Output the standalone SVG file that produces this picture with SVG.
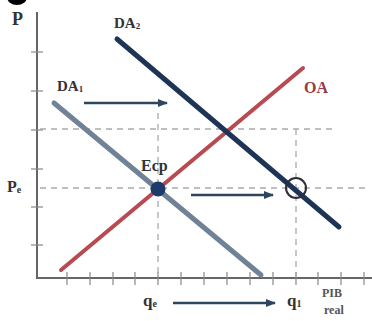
<svg xmlns="http://www.w3.org/2000/svg" width="372" height="321" viewBox="0 0 372 321">
<defs>
<style>
.axis{stroke:#666;stroke-width:2;fill:none}
.tick{stroke:#888;stroke-width:1.2}
.dash{stroke:#aaa;stroke-width:1.3;stroke-dasharray:6 5;fill:none}
.lbl{font-family:"Liberation Serif",serif;font-weight:bold;fill:#333}
.arr{stroke:#2e4560;stroke-width:2.5;fill:none}
</style>
<marker id="ah" viewBox="0 0 10 10" refX="9" refY="5" markerWidth="4" markerHeight="4" orient="auto" markerUnits="strokeWidth">
<path d="M0,1 L10,5 L0,9 Z" fill="#2e4560"/>
</marker>
</defs>
<rect width="372" height="321" fill="#fff"/>
<ellipse cx="17" cy="-3" rx="10" ry="8" fill="#000"/>
<g id="axes">
<line class="axis" x1="37" y1="12" x2="37" y2="278"/>
<line class="axis" x1="36" y1="278" x2="372" y2="278"/>
<g class="tick">
<line x1="31" y1="52" x2="43" y2="52"/>
<line x1="31" y1="91" x2="43" y2="91"/>
<line x1="31" y1="130" x2="43" y2="130"/>
<line x1="31" y1="169" x2="43" y2="169"/>
<line x1="31" y1="207" x2="43" y2="207"/>
<line x1="31" y1="245" x2="43" y2="245"/>
<line x1="67" y1="272" x2="67" y2="285"/>
<line x1="90" y1="272" x2="90" y2="285"/>
<line x1="113" y1="272" x2="113" y2="285"/>
<line x1="135" y1="272" x2="135" y2="285"/>
<line x1="158" y1="272" x2="158" y2="285"/>
<line x1="181" y1="272" x2="181" y2="285"/>
<line x1="204" y1="272" x2="204" y2="285"/>
<line x1="227" y1="272" x2="227" y2="285"/>
<line x1="250" y1="272" x2="250" y2="285"/>
<line x1="273" y1="272" x2="273" y2="285"/>
<line x1="296" y1="272" x2="296" y2="285"/>
<line x1="318" y1="272" x2="318" y2="285"/>
<line x1="341" y1="272" x2="341" y2="285"/>
<line x1="364" y1="272" x2="364" y2="285"/>
</g>
</g>
<g id="guides">
<line class="dash" x1="40" y1="188" x2="370" y2="188"/>
<line class="dash" x1="40" y1="129" x2="334" y2="129"/>
<line class="dash" x1="158" y1="113" x2="158" y2="276"/>
<line class="dash" x1="296" y1="129" x2="296" y2="276"/>
</g>
<g id="connectors">
<line id="OA-line" x1="61" y1="270" x2="303" y2="68" stroke="#b84a52" stroke-width="4" stroke-linecap="round"/>
<line id="DA1-line" x1="54" y1="103" x2="261" y2="275" stroke="#6f8296" stroke-width="5" stroke-linecap="round"/>
<line id="DA2-line" x1="117" y1="39" x2="339" y2="227" stroke="#1d3456" stroke-width="5" stroke-linecap="round"/>
<line class="arr" x1="84" y1="103" x2="167" y2="103" marker-end="url(#ah)"/>
<line class="arr" x1="191" y1="195" x2="273" y2="195" marker-end="url(#ah)"/>
<line class="arr" x1="173" y1="303" x2="275" y2="303" marker-end="url(#ah)"/>
</g>
<g id="ecp">
<circle cx="158" cy="189" r="7.5" fill="#1d3a6b"/>
<text class="lbl" x="141" y="171" font-size="16">Ecp</text>
</g>
<g id="new-eq">
<circle cx="296" cy="188" r="10" fill="none" stroke="#2a2f3a" stroke-width="2"/>
</g>
<g id="labels">
<text class="lbl" x="12" y="25" font-size="18">P</text>
<text class="lbl" x="114" y="28" font-size="15">DA<tspan font-size="9" dy="1">2</tspan></text>
<text class="lbl" x="57" y="91" font-size="15">DA<tspan font-size="9" dy="1">1</tspan></text>
<text class="lbl" x="304" y="93" font-size="16" style="fill:#9b3a44">OA</text>
<text class="lbl" x="7" y="192" font-size="16">P<tspan font-size="10" dy="1">e</tspan></text>
<text class="lbl" x="143" y="306" font-size="17">q<tspan font-size="10" dy="1">e</tspan></text>
<text class="lbl" x="287" y="306" font-size="17">q<tspan font-size="10" dy="1">1</tspan></text>
<text class="lbl" x="322" y="297" font-size="12" style="fill:#555">PIB</text>
<text class="lbl" x="324" y="314" font-size="12" style="fill:#555">real</text>
</g>
</svg>
